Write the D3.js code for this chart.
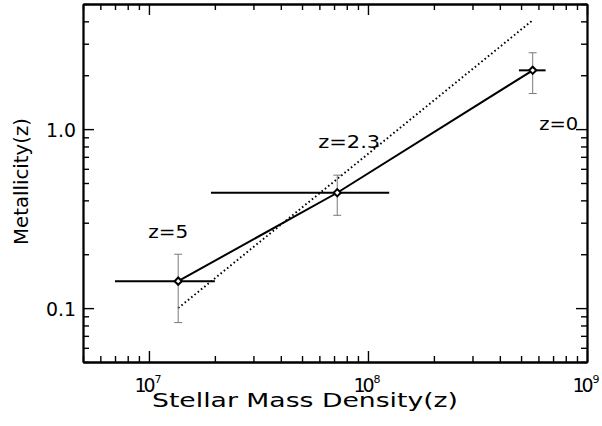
<!DOCTYPE html>
<html><head><meta charset="utf-8">
<script src="https://cdn.jsdelivr.net/npm/d3@7"></script>
<style>
html,body{margin:0;padding:0;background:#fff;}
svg{display:block;}
text{font-family:"DejaVu Sans",sans-serif;fill:#000;}
</style></head>
<body>
<script>
// ---- data ----
const pointLabels = ["z=5", "z=2.3", "z=0"];
const density     = [1.36e7, 7.24e7, 5.65e8];
const densityLo   = [7.0e6, 1.92e7, 4.89e8];
const densityHi   = [2.0e7, 1.25e8, 6.47e8];
const metallicity = [0.1415, 0.441, 2.13];
const metalLo     = [0.083, 0.33, 1.58];
const metalHi     = [0.20, 0.553, 2.67];
const dottedX     = [1.36e7, 5.65e8];
const dottedY     = [0.1, 4.06];
const xTickValues = [1e7, 1e8, 1e9];
const xTickBase   = ["10", "10", "10"];
const xTickExp    = ["7", "8", "9"];
const yTickValues = [0.1, 1.0];
const yTickLabels = ["0.1", "1.0"];
const xTitle = "Stellar Mass Density(z)";
const yTitle = "Metallicity(z)";

const W = 602, H = 426;
const L = 83, R = 587, T = 4, B = 362;

const svg = d3.select("body").append("svg").attr("width", W).attr("height", H);

const x = d3.scaleLog().domain([5e6, 1e9]).range([L, R]);
const y = d3.scaleLog().domain([0.05, 5]).range([B, T]);

const xMinor = x.ticks().filter(v => !xTickValues.some(t => Math.abs(t - v) / t < 1e-6));
const yMinor = y.ticks().filter(v => !yTickValues.some(t => Math.abs(t - v) / t < 1e-6));

function styleAxis(g) {
  g.select(".domain").attr("stroke", "#000").attr("stroke-width", 1.8);
  g.selectAll(".tick line").attr("stroke", "#000").attr("stroke-width", 1.4);
  g.selectAll(".tick text").remove();
}

// bottom / top
[[d3.axisBottom, B], [d3.axisTop, T]].forEach(([ax, pos]) => {
  svg.append("g").attr("transform", `translate(0,${pos})`)
    .call(ax(x).tickValues(xMinor).tickSize(-6).tickSizeOuter(0)).call(styleAxis);
  svg.append("g").attr("transform", `translate(0,${pos})`)
    .call(ax(x).tickValues(xTickValues).tickSize(-11).tickSizeOuter(0)).call(styleAxis);
});
// left / right
[[d3.axisLeft, L], [d3.axisRight, R]].forEach(([ax, pos]) => {
  svg.append("g").attr("transform", `translate(${pos},0)`)
    .call(ax(y).tickValues(yMinor).tickSize(-6).tickSizeOuter(0)).call(styleAxis);
  svg.append("g").attr("transform", `translate(${pos},0)`)
    .call(ax(y).tickValues(yTickValues).tickSize(-11).tickSizeOuter(0)).call(styleAxis);
});

// x tick labels
const xl = svg.append("g");
xl.selectAll(".b").data(xTickValues).join("text").attr("class", "b")
  .attr("x", d => x(d) - 14.5).attr("y", 392).attr("text-anchor", "start")
  .style("font-size", "19px").style("letter-spacing", "-3px")
  .text((d, i) => xTickBase[i]);
xl.selectAll(".e").data(xTickValues).join("text").attr("class", "e")
  .attr("x", d => x(d) + 5.5).attr("y", 383).attr("text-anchor", "start")
  .style("font-size", "11px")
  .text((d, i) => xTickExp[i]);
// y tick labels
svg.append("g").selectAll("text").data(yTickValues).join("text")
  .attr("x", 76).attr("y", d => y(d) + 7.5).attr("text-anchor", "end")
  .attr("font-size", 19).attr("textLength", 30).attr("lengthAdjust", "spacingAndGlyphs")
  .text((d, i) => yTickLabels[i]);

// dotted line
const dotted = dottedX.map((v, i) => [v, dottedY[i]]);
svg.append("path").datum(dotted)
  .attr("d", d3.line().x(d => x(d[0])).y(d => y(d[1])))
  .attr("fill", "none").attr("stroke", "#000").attr("stroke-width", 1.9)
  .attr("stroke-dasharray", "1.6,2.6");

const pts = density.map((v, i) => ({ x: v, y: metallicity[i], xl: densityLo[i], xh: densityHi[i], yl: metalLo[i], yh: metalHi[i], label: pointLabels[i] }));

// horizontal error bars
svg.append("g").selectAll("line").data(pts).join("line")
  .attr("x1", d => x(d.xl)).attr("x2", d => x(d.xh))
  .attr("y1", d => y(d.y)).attr("y2", d => y(d.y))
  .attr("stroke", "#000").attr("stroke-width", 2);

// solid line through points
svg.append("path").datum(pts)
  .attr("d", d3.line().x(d => x(d.x)).y(d => y(d.y)))
  .attr("fill", "none").attr("stroke", "#000").attr("stroke-width", 2);

// vertical error bars (grey)
const eb = svg.append("g").attr("stroke", "#7a7a7a").attr("stroke-width", 1);
eb.selectAll(".v").data(pts).join("line").attr("class", "v")
  .attr("x1", d => x(d.x)).attr("x2", d => x(d.x))
  .attr("y1", d => y(d.yl)).attr("y2", d => y(d.yh));
eb.selectAll(".ct").data(pts).join("line").attr("class", "ct")
  .attr("x1", d => x(d.x) - 4).attr("x2", d => x(d.x) + 4)
  .attr("y1", d => y(d.yh)).attr("y2", d => y(d.yh));
eb.selectAll(".cb").data(pts).join("line").attr("class", "cb")
  .attr("x1", d => x(d.x) - 4).attr("x2", d => x(d.x) + 4)
  .attr("y1", d => y(d.yl)).attr("y2", d => y(d.yl));

// diamonds (rotated squares)
svg.append("g").selectAll("path").data(pts).join("path")
  .attr("transform", d => `translate(${x(d.x)},${y(d.y)}) rotate(45)`)
  .attr("d", d3.symbol(d3.symbolSquare, 26))
  .attr("fill", "#fff").attr("stroke", "#000").attr("stroke-width", 2);

// point labels
const labOff = [[-10, -43], [12, -45], [26, 60]];
const labLen = [40, 62, 39];
svg.append("g").selectAll("text").data(pts).join("text")
  .attr("x", (d, i) => x(d.x) + labOff[i][0]).attr("y", (d, i) => y(d.y) + labOff[i][1])
  .attr("text-anchor", "middle").attr("font-size", 18.5)
  .attr("textLength", (d, i) => labLen[i]).attr("lengthAdjust", "spacingAndGlyphs")
  .text(d => d.label);

// titles
svg.append("text").attr("x", 305).attr("y", 407).attr("text-anchor", "middle")
  .attr("font-size", 19).attr("textLength", 306).attr("lengthAdjust", "spacingAndGlyphs")
  .text(xTitle);
svg.append("text").attr("transform", "translate(28,181.5) rotate(-90)").attr("text-anchor", "middle")
  .attr("font-size", 19).attr("textLength", 127).attr("lengthAdjust", "spacingAndGlyphs")
  .text(yTitle);
</script>
</body></html>
